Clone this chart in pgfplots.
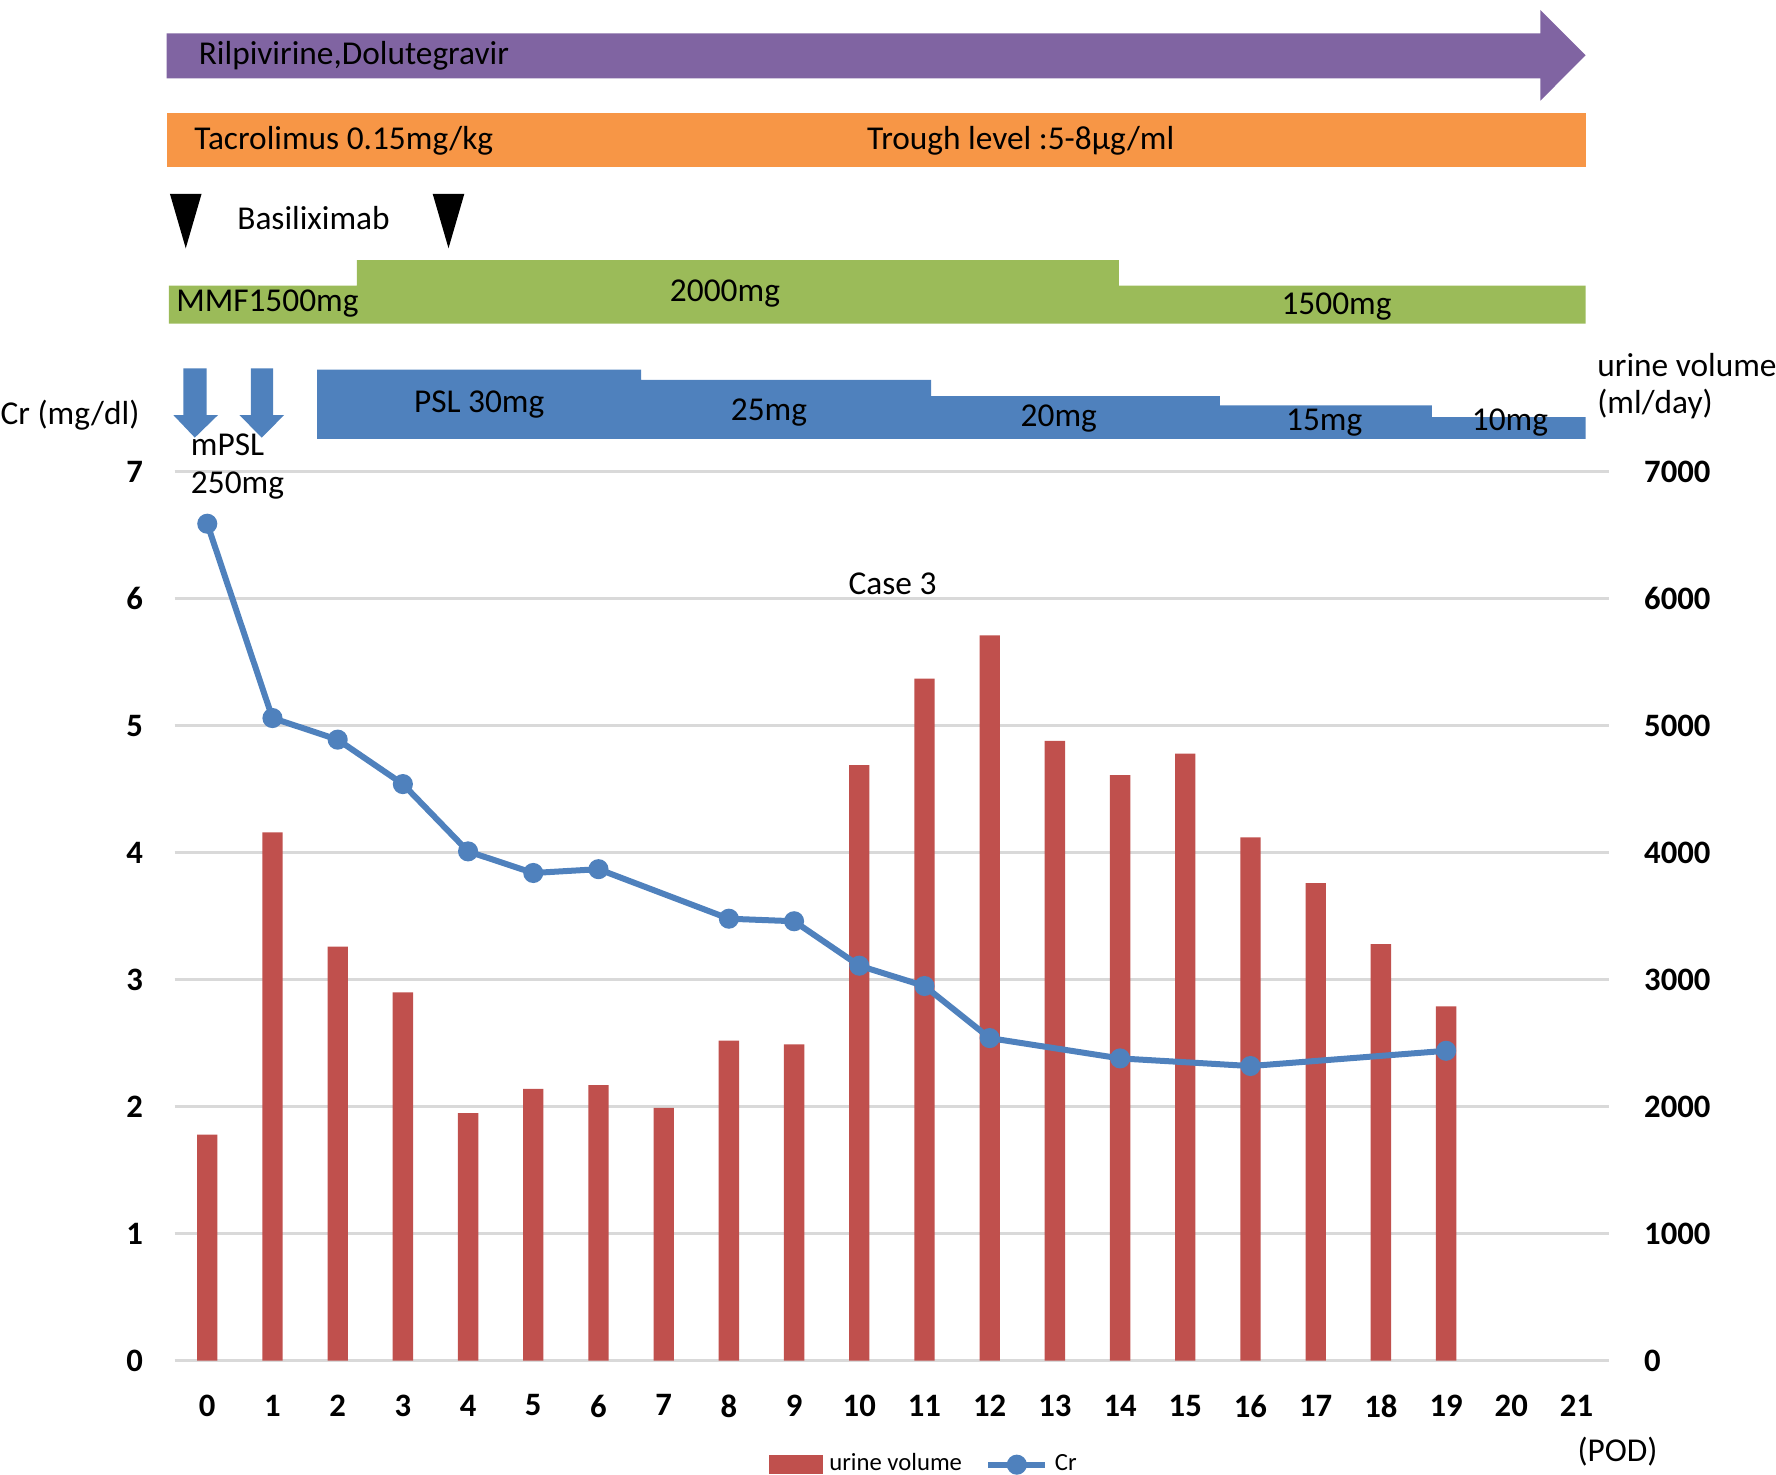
\documentclass[border=0pt]{standalone}
\usepackage{pgfplots}
\pgfplotsset{compat=1.18}
\usepackage{fontspec}
\setmainfont{Carlito}
\definecolor{cpurple}{HTML}{8064A2}
\definecolor{corange}{HTML}{F79646}
\definecolor{cgreen}{HTML}{9BBB59}
\definecolor{cblue}{HTML}{4F81BD}
\definecolor{cred}{HTML}{C0504D}
\definecolor{cgrid}{HTML}{D9D9D9}
\newcommand{\ann}{\fontsize{10}{12}\selectfont}
\begin{document}
\begin{tikzpicture}
\pgfplotsset{
  base/.style={
    width=430.1pt, height=266.56pt, scale only axis,
    at={(0,0)}, anchor=south west,
    xmin=-0.5, xmax=21.5,
    major tick length=0,
    axis line style={draw=none},
    /pgf/number format/assume math mode=true,
    /pgf/number format/1000 sep={},
    tick label style={font=\fontsize{9.8}{11}\selectfont\bfseries},
  }
}
\begin{axis}[base,
  axis y line*=right, axis x line*=bottom, xtick=\empty,
  ymin=0, ymax=7000, ytick={0,1000,...,7000},
  ymajorgrids, grid style={cgrid, line width=1pt},
  yticklabel style={xshift=7pt},
]
\addplot[ybar, bar width=6.1pt, fill=cred, draw=none] coordinates {
(0,1780) (1,4160) (2,3260) (3,2900) (4,1950) (5,2140) (6,2170) (7,1990)
(8,2520) (9,2490) (10,4690) (11,5370) (12,5710) (13,4880) (14,4610)
(15,4780) (16,4120) (17,3760) (18,3280) (19,2790)};
\end{axis}
\begin{axis}[base,
  axis y line*=left, axis x line*=bottom, clip=false,
  ymin=0, ymax=7, ytick={0,...,7}, xtick={0,...,21},
  yticklabel style={xshift=-6pt},
  xticklabel style={yshift=-6.7pt},
  legend style={at={(0.524,-0.117)}, anchor=center, draw=none, fill=none,
    inner sep=0pt, legend columns=2, font=\fontsize{7.4}{9}\selectfont,
    /tikz/every even column/.append style={column sep=5pt}},
]
\addlegendimage{legend image code/.code={\fill[cred] (0cm,-0.09cm) rectangle (0.55cm,0.09cm);}}
\addlegendentry{urine volume}
\addplot[cblue, line width=1.8pt, mark=*, mark size=2.1pt] coordinates {
(0,6.59) (1,5.06) (2,4.89) (3,4.54) (4,4.01) (5,3.84) (6,3.87) (8,3.48)
(9,3.46) (10,3.11) (11,2.95) (12,2.54) (14,2.38) (16,2.32) (19,2.44)};
\addlegendentry{Cr}
% bounding area
\coordinate (bbsw) at (axis cs:-3.179,-0.893);
\coordinate (bbne) at (axis cs:24.06,10.714);
% purple arrow
\fill[cpurple] (axis cs:-0.625,10.096) -- (axis cs:20.445,10.096) -- (axis cs:20.445,9.921)
  -- (axis cs:21.14,10.278) -- (axis cs:20.445,10.636) -- (axis cs:20.445,10.452)
  -- (axis cs:-0.625,10.452) -- cycle;
% orange
\fill[corange] (axis cs:-0.625,9.402) rectangle (axis cs:21.14,9.821);
% triangles
\fill[black] (axis cs:-0.573,9.188) -- (axis cs:-0.087,9.188) -- (axis cs:-0.33,8.759) -- cycle;
\fill[black] (axis cs:3.457,9.188) -- (axis cs:3.943,9.188) -- (axis cs:3.70,8.759) -- cycle;
% green MMF
\fill[cgreen] (axis cs:-0.59,8.165) -- (axis cs:-0.59,8.464) -- (axis cs:2.293,8.464)
  -- (axis cs:2.293,8.665) -- (axis cs:13.98,8.665) -- (axis cs:13.98,8.464)
  -- (axis cs:21.14,8.464) -- (axis cs:21.14,8.165) -- cycle;
% blue arrows
\fill[cblue] (axis cs:-0.365,7.813) -- (axis cs:-0.009,7.813) -- (axis cs:-0.009,7.446)
  -- (axis cs:0.165,7.446) -- (axis cs:-0.191,7.268) -- (axis cs:-0.521,7.446)
  -- (axis cs:-0.365,7.446) -- cycle;
\fill[cblue] (axis cs:0.669,7.813) -- (axis cs:1.011,7.813) -- (axis cs:1.011,7.446)
  -- (axis cs:1.179,7.446) -- (axis cs:0.836,7.268) -- (axis cs:0.492,7.446)
  -- (axis cs:0.669,7.446) -- cycle;
% PSL steps
\fill[cblue] (axis cs:1.685,7.259) -- (axis cs:1.685,7.804) -- (axis cs:6.653,7.804)
  -- (axis cs:6.653,7.723) -- (axis cs:11.1,7.723) -- (axis cs:11.1,7.594)
  -- (axis cs:15.53,7.594) -- (axis cs:15.53,7.521) -- (axis cs:18.78,7.521)
  -- (axis cs:18.78,7.429) -- (axis cs:21.14,7.429) -- (axis cs:21.14,7.259) -- cycle;
% texts
\begin{scope}[every node/.style={inner sep=0pt, font=\ann}]
\node[anchor=west] at (axis cs:-0.139,10.278) {Rilpivirine,Dolutegravir};
\node[anchor=west] at (axis cs:-0.208,9.607) {Tacrolimus 0.15mg/kg};
\node[anchor=west] at (axis cs:10.11,9.607) {Trough level :5-8µg/ml};
\node at (axis cs:1.63,9.0) {Basiliximab};
\node[anchor=west] at (axis cs:-0.486,8.32) {MMF1500mg};
\node at (axis cs:7.94,8.40) {2000mg};
\node at (axis cs:17.32,8.30) {1500mg};
\node at (axis cs:4.17,7.527) {PSL 30mg};
\node at (axis cs:8.615,7.464) {25mg};
\node at (axis cs:13.06,7.42) {20mg};
\node at (axis cs:17.13,7.384) {15mg};
\node at (axis cs:19.98,7.384) {10mg};
\node[anchor=west] at (axis cs:-0.26,7.214) {mPSL};
\node[anchor=west] at (axis cs:-0.26,6.893) {250mg};
\node[anchor=west] at (axis cs:-3.179,7.446) {Cr (mg/dl)};
\node[anchor=west] at (axis cs:21.31,7.84) {urine volume};
\node[anchor=west] at (axis cs:21.31,7.536) {(ml/day)};
\node at (axis cs:10.51,6.116) {Case 3};
\node at (axis cs:21.63,-0.714) {(POD)};
\end{scope}
\end{axis}
\pgfresetboundingbox
\path[use as bounding box] (bbsw) rectangle (bbne);
\end{tikzpicture}
\end{document}
